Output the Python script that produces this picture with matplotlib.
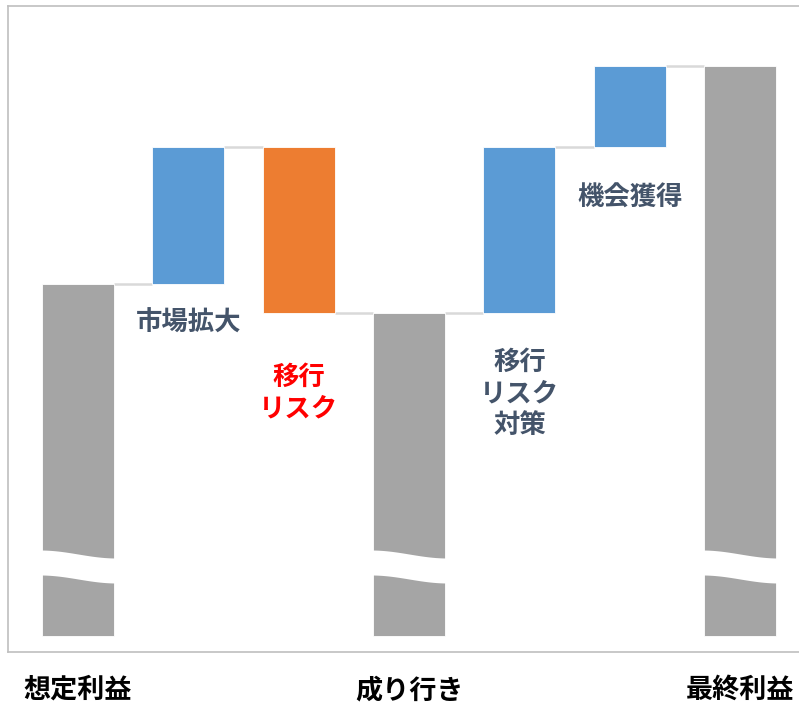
import numpy as np
import matplotlib.pyplot as plt

plt.rcParams['font.family'] = ['Noto Sans CJK JP', 'DejaVu Sans']

# データ
steps = ["想定利益", "市場拡大", "移行リスク", "成り行き", "移行リスク対策", "機会獲得", "最終利益"]
start_value = 35.2
changes = [13.7, -16.6, None, 16.6, 8.1, None]   # None = 小計
bottom_labels = ["想定利益", "", "", "成り行き", "", "", "最終利益"]

GRAY = "#a5a5a5"
BLUE = "#5b9bd5"
ORANGE = "#ed7d31"
SLATE = "#44546a"

# 積み上げ計算
bottoms, heights, colors = [0], [start_value], [GRAY]
levels = [start_value]
level = start_value
for c in changes:
    if c is None:
        bottoms.append(0)
        heights.append(level)
        colors.append(GRAY)
    else:
        new = level + c
        bottoms.append(min(level, new))
        heights.append(abs(c))
        colors.append(BLUE if c > 0 else ORANGE)
        level = new
    levels.append(level)

fig = plt.figure(figsize=(7.99, 7.11), dpi=100)
ax = fig.add_axes([8 / 799, 59 / 711, 793 / 799, 646 / 711])

x = np.arange(len(steps))
w = 0.653
ax.bar(x, heights, bottom=bottoms, width=w, color=colors, edgecolor="white", linewidth=0.6, zorder=2)

# 接続線
for i in range(len(steps) - 1):
    ax.plot([x[i] + w / 2, x[i + 1] - w / 2], [levels[i], levels[i]],
            color="#d9d9d9", lw=1.8, zorder=1, solid_capstyle="butt")

# 省略（波線）
t = np.linspace(0, 1, 60)
wave = (1 - np.cos(np.pi * t)) / 2
for i, col in enumerate(colors):
    if col == GRAY:
        xs = x[i] - w / 2 - 0.02 + t * (w + 0.04)
        ax.fill_between(xs, 6.1 - 0.8 * wave, 8.6 - 0.8 * wave, color="white", zorder=3, lw=0)

# ラベル
ax.text(x[1], 31.3, "市場拡大", ha="center", va="center", fontsize=19, fontweight="bold", color=SLATE)
ax.text(x[2], 24.3, "移行\nリスク", ha="center", va="center", fontsize=19, fontweight="bold",
        color="#ff0000", linespacing=1.2)
ax.text(x[4], 24.2, "移行\nリスク\n対策", ha="center", va="center", fontsize=19, fontweight="bold",
        color=SLATE, linespacing=1.22)
ax.text(x[5], 43.8, "機会獲得", ha="center", va="center", fontsize=19, fontweight="bold", color=SLATE)

for i, lab in enumerate(bottom_labels):
    if lab:
        ax.text(x[i], -5.4, lab, ha="center", va="center", fontsize=19.5, fontweight="bold",
                color="black", clip_on=False)

ax.set_xlim(-0.635, 6.552)
ax.set_ylim(-1.6, 63.0)
ax.set_xticks([])
ax.set_yticks([])
for s in ["left", "top", "bottom"]:
    ax.spines[s].set_color("#bfbfbf")
    ax.spines[s].set_linewidth(1.2)
ax.spines["right"].set_visible(False)

fig.savefig("out.png", dpi=100)
